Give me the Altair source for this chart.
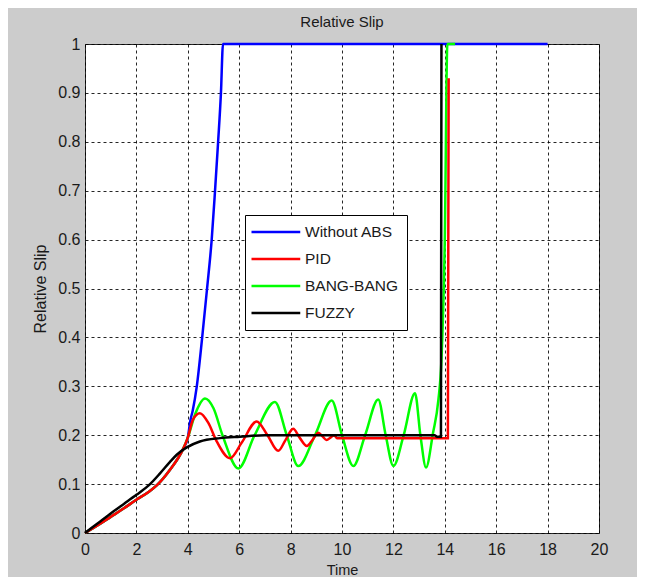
import altair as alt
import pandas as pd

# ---- data ----
series_names = ["Without ABS", "PID", "BANG-BANG", "FUZZY"]
series_colors = ["#0000ff", "#ff0000", "#00ff00", "#000000"]

# common start (hidden behind the other curves)
start_t = [0.0, 0.5, 1.0, 1.5, 2.0, 2.5, 2.8, 3.3, 3.8, 4.0]
start_v = [0.0, 0.016, 0.033, 0.05, 0.068, 0.085, 0.098, 0.129, 0.17, 0.195]

blue_t = start_t + [4.1, 4.19, 4.35, 4.56, 4.75, 4.93, 5.06, 5.18, 5.29, 5.37, 18.0]
blue_v = start_v + [0.23, 0.25, 0.3, 0.4, 0.5, 0.6, 0.7, 0.8, 0.9, 1.0, 1.0]

green_t = start_t + [4.3, 4.67, 5.0, 5.35, 5.97, 6.6, 7.39, 7.85, 8.3, 8.95, 9.6,
                     10.0, 10.44, 10.9, 11.41, 11.7, 12.0, 12.4, 12.84, 13.05,
                     13.27, 13.54, 13.75, 13.87, 14.0, 14.1, 14.4]
green_v = start_v + [0.245, 0.275, 0.255, 0.2, 0.132, 0.2, 0.268, 0.2, 0.137, 0.2, 0.271,
                     0.2, 0.137, 0.2, 0.273, 0.2, 0.137, 0.2, 0.286, 0.2,
                     0.134, 0.204, 0.272, 0.354, 0.6, 1.0, 1.0]

red_t = start_t + [4.2, 4.47, 4.8, 5.1, 5.64, 6.1, 6.68, 7.1, 7.52, 7.8, 8.1, 8.35,
                   8.63, 8.85, 9.08, 9.25, 9.4, 9.55, 9.7, 9.8, 14.12, 14.15]
red_v = start_v + [0.232, 0.245, 0.225, 0.19, 0.153, 0.185, 0.228, 0.2, 0.168, 0.19, 0.213, 0.195,
                   0.178, 0.19, 0.205, 0.197, 0.19, 0.195, 0.2, 0.194, 0.194, 0.93]

black_t = [0.0, 0.5, 1.0, 1.5, 2.0, 2.53, 2.92, 3.3, 3.57, 3.96, 4.47, 5.25, 6.03,
           7.0, 13.6, 13.7, 13.85, 13.87]
black_v = [0.0, 0.02, 0.04, 0.059, 0.078, 0.1, 0.122, 0.145, 0.16, 0.175, 0.187, 0.194, 0.197,
           0.2, 0.2, 0.197, 0.197, 1.0]

x_ticks = list(range(0, 21, 2))
y_ticks = [round(i * 0.1, 1) for i in range(11)]

# ---- build table (draw order: blue, green, red, black) ----
rows = []
for name, ts, vs in [("Without ABS", blue_t, blue_v), ("BANG-BANG", green_t, green_v),
                     ("PID", red_t, red_v), ("FUZZY", black_t, black_v)]:
    for i, (t, v) in enumerate(zip(ts, vs)):
        rows.append({"series": name, "t": t, "v": v, "i": i})
df = pd.DataFrame(rows)

FONT = "Liberation Sans, Arial, sans-serif"
TXT = "#1a1a1a"

chart = alt.Chart(df).mark_line(strokeWidth=2.5, interpolate="monotone").encode(
    x=alt.X("t:Q", scale=alt.Scale(domain=[0, 20], nice=False),
            axis=alt.Axis(values=x_ticks, title="Time", format="d", labelPadding=8,
                          labelFlush=False, titleY=37, titleBaseline="middle",
                          titleFontSize=14.5)),
    y=alt.Y("v:Q", scale=alt.Scale(domain=[0, 1], nice=False),
            axis=alt.Axis(values=y_ticks, title="Relative Slip", format=".1~f", labelPadding=5,
                          labelFlush=False, titleX=-45, titleBaseline="middle",
                          titleFontSize=16)),
    color=alt.Color("series:N", scale=alt.Scale(domain=series_names, range=series_colors),
                    legend=alt.Legend(title=None, orient="none", legendX=160, legendY=171,
                                      symbolType="M-1.4,0H5.1", symbolSize=225,
                                      symbolStrokeWidth=2.5, labelOffset=34,
                                      labelFontSize=15.5, labelFont=FONT, labelColor=TXT,
                                      padding=8, rowPadding=9, strokeColor="black",
                                      fillColor="white", cornerRadius=0)),
    order="i:Q",
).properties(
    width=514, height=489,
    title=alt.TitleParams("Relative Slip", fontSize=15, fontWeight="normal", font=FONT,
                          color=TXT, anchor="middle", offset=6),
    background="#cccccc",
    padding={"left": 77, "top": 36, "right": 38, "bottom": 44},
    autosize=alt.AutoSizeParams(type="none"),
).configure_view(
    fill="white", stroke="#262626", strokeWidth=1
).configure_axis(
    labelFont=FONT, labelFontSize=16, labelColor=TXT,
    titleFont=FONT, titleFontWeight="normal", titleColor=TXT,
    ticks=False, tickSize=0, domain=False,
    grid=True, gridColor="black", gridDash=[3, 3], gridWidth=1, gridOpacity=0.85,
)

chart.save("out.html", embed_options={"renderer": "svg", "actions": False})
